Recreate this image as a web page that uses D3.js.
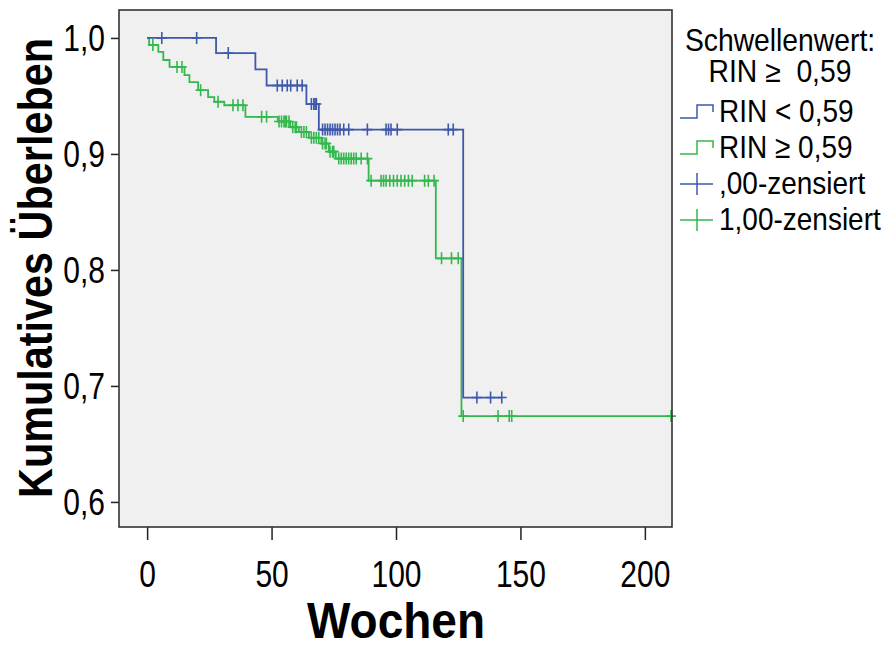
<!DOCTYPE html>
<html>
<head>
<meta charset="utf-8">
<script src="https://cdn.jsdelivr.net/npm/d3@7"></script>
<style>
  body { margin: 0; background: #ffffff; }
  svg text { font-family: "Liberation Sans", Arial, sans-serif; fill: #000; }
</style>
</head>
<body>
<svg id="chart"></svg>
<script>
// Kaplan-Meier data (weeks, cumulative survival)
const blueEventTimes = [27.7, 43.5, 48, 64, 69];
const blueSurvival   = [0.987, 0.973, 0.959, 0.943, 0.921];
const blueEventTimes2 = [127];
const blueSurvival2   = [0.690];
const blueCensored = [5.9, 19.9, 32.6, 52.3, 54.3, 56.3, 57.7, 60.3, 62.3, 66, 67, 67.5, 68,
  70.5, 71.5, 72.5, 73.5, 74.5, 75.5, 76.5, 77.5, 79, 81, 88.5, 96, 97, 98, 100.5, 121, 123,
  132.5, 138, 142.5];

const greenEventTimes = [0.8, 4.5, 6.5, 9, 15, 17, 20.5, 24.5, 27, 31, 39.5, 52.5, 57.5, 61,
  65, 70, 73, 75.8, 89, 116, 126.3];
const greenSurvival   = [0.994, 0.988, 0.981, 0.975, 0.968, 0.962, 0.955, 0.949, 0.945, 0.942,
  0.932, 0.928, 0.923, 0.919, 0.914, 0.909, 0.902, 0.896, 0.877, 0.810, 0.674];
const greenCensored = [2.3, 12, 14, 21.5, 28.5, 34.5, 36.5, 38.5, 46, 48, 53, 54, 55, 55.5, 56,
  57, 58.5, 59.5, 60, 62, 63, 64, 66, 67, 68, 69, 70.5, 71.5, 72, 73.5, 74.5, 75, 77, 78, 79,
  80, 81, 82, 83, 84, 86, 88.5, 90, 94, 95, 96, 97.5, 99, 100.5, 102, 103.5, 105, 106.5,
  111.5, 113, 115.3, 118.3, 122.3, 125, 127, 141, 145.5, 146.5, 210.5];

const xTicks = [0, 50, 100, 150, 200];
const yTicks = [0.6, 0.7, 0.8, 0.9, 1.0];
const legendTitle = ["Schwellenwert:", "RIN \u2265\u00a0\u00a00,59"];
const legendLabels = ["RIN < 0,59", "RIN \u2265 0,59", ",00-zensiert", "1,00-zensiert"];

const width = 888;
const height = 646;
const plot = { left: 119, right: 672, top: 10, bottom: 527 };
const blue = "#3e58ac";
const green = "#34b84e";
const stretch = 1.2; // original text is drawn taller than it is wide

const svg = d3.select("#chart")
    .attr("width", width)
    .attr("height", height);

const x = d3.scaleLinear().domain([-11.3, 210.9]).range([plot.left, plot.right]);
const y = d3.scaleLinear().domain([0.5784, 1.0241]).range([plot.bottom, plot.top]);

const de = d3.formatLocale({ decimal: ",", thousands: ".", grouping: [3], currency: ["", "€"] });
const fmt = de.format(".1f");

// plot background
svg.append("rect")
    .attr("x", plot.left).attr("y", plot.top)
    .attr("width", plot.right - plot.left).attr("height", plot.bottom - plot.top)
    .attr("fill", "#f0f0f0");

// axes
const xAxis = svg.append("g")
    .attr("transform", `translate(0, ${plot.bottom})`)
    .call(d3.axisBottom(x).tickValues(xTicks).tickSize(13).tickSizeOuter(0));
xAxis.select(".domain").remove();
xAxis.selectAll("text")
    .attr("y", 0).attr("dy", null)
    .attr("transform", `translate(0, 60) scale(1, ${stretch})`)
    .style("font-size", "30px");

const yAxis = svg.append("g")
    .attr("transform", `translate(${plot.left}, 0)`)
    .call(d3.axisLeft(y).tickValues(yTicks).tickFormat(fmt).tickSize(8).tickSizeOuter(0));
yAxis.select(".domain").remove();
yAxis.selectAll("text")
    .attr("x", null).attr("dy", null)
    .attr("transform", `translate(-14, 13) scale(1, ${stretch})`)
    .style("font-size", "30px");
svg.selectAll(".tick line").attr("stroke", "#222").attr("stroke-width", 1.5);

// step curves
function buildSteps(times, surv, end) {
    const pts = [[0, 1]];
    times.forEach((t, i) => pts.push([t, surv[i]]));
    pts.push([end, surv[surv.length - 1]]);
    return pts;
}
function survAt(times, surv, t) {
    const i = d3.bisectRight(times, t);
    return i === 0 ? 1 : surv[i - 1];
}

const line = d3.line()
    .x(d => x(d[0]))
    .y(d => y(d[1]))
    .curve(d3.curveStepAfter);

const blueTimes = blueEventTimes.concat(blueEventTimes2);
const blueSurv = blueSurvival.concat(blueSurvival2);

const series = [
    { times: greenEventTimes, surv: greenSurvival, cens: greenCensored, color: green },
    { times: blueTimes, surv: blueSurv, cens: blueCensored, color: blue }
];

series.forEach(s => {
    svg.append("path")
        .datum(buildSteps(s.times, s.surv, d3.max(s.cens)))
        .attr("fill", "none")
        .attr("stroke", s.color)
        .attr("stroke-width", 1.8)
        .attr("d", line);

    svg.append("g").selectAll("path")
        .data(s.cens)
        .enter().append("path")
        .attr("d", t => {
            const cx = x(t), cy = y(survAt(s.times, s.surv, t));
            return `M${cx - 5},${cy}H${cx + 5}M${cx},${cy - 6}V${cy + 6}`;
        })
        .attr("stroke", s.color)
        .attr("stroke-width", 1.6)
        .attr("fill", "none");
});

// frame
svg.append("rect")
    .attr("x", plot.left).attr("y", plot.top)
    .attr("width", plot.right - plot.left).attr("height", plot.bottom - plot.top)
    .attr("fill", "none")
    .attr("stroke", "#333")
    .attr("stroke-width", 1.6);

// axis titles
svg.append("text")
    .attr("transform", `translate(${(x(0) + x(200)) / 2}, 638) scale(1, 1.08)`)
    .attr("text-anchor", "middle")
    .style("font-size", "46px")
    .style("font-weight", "bold")
    .text("Wochen");

svg.append("text")
    .attr("transform", "translate(52, 268) rotate(-90) scale(1, 1.18)")
    .attr("text-anchor", "middle")
    .style("font-size", "41.4px")
    .style("font-weight", "bold")
    .text("Kumulatives Überleben");

// legend
const legend = svg.append("g");
legend.selectAll("text.title")
    .data(legendTitle)
    .enter().append("text")
    .attr("class", "title")
    .attr("text-anchor", "middle")
    .attr("transform", (d, i) => `translate(780, ${51 + i * 31}) scale(1, 1.08)`)
    .style("font-size", "28.3px")
    .style("white-space", "pre")
    .text(d => d);

const legendColors = [blue, green, blue, green];
legendLabels.forEach((label, i) => {
    const ly = 122 + i * 36;
    const g = legend.append("g");
    if (i < 2) {
        g.append("path")
            .attr("d", `M680,${ly - 4}H697V${ly - 17}H713V${ly - 10}`)
            .attr("fill", "none")
            .attr("stroke", legendColors[i])
            .attr("stroke-width", 1.5);
    } else {
        g.append("path")
            .attr("d", `M680,${ly - 10}H713M697,${ly - 21}V${ly + 1}`)
            .attr("fill", "none")
            .attr("stroke", legendColors[i])
            .attr("stroke-width", 1.5);
    }
    g.append("text")
        .attr("transform", `translate(719, ${ly}) scale(1, 1.15)`)
        .style("font-size", "28px")
        .text(label);
});
</script>
</body>
</html>
